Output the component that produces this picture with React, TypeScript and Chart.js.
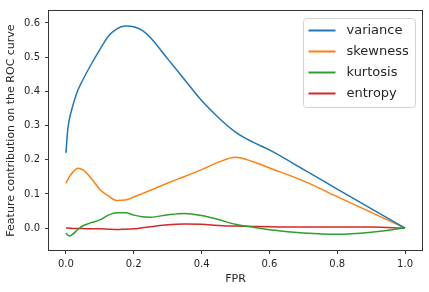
import React, { useEffect, useRef } from "react";
import { Chart, registerables } from "chart.js";

Chart.register(...registerables);

// FPR grid shared by all series
const fpr = [0, 0.005, 0.01, 0.02, 0.035, 0.05, 0.075, 0.1, 0.125, 0.15, 0.175, 0.2, 0.225, 0.25, 0.3, 0.35, 0.4, 0.45, 0.5, 0.55, 0.6, 0.7, 0.8, 0.9, 1.0];

const variance = [0.22, 0.285, 0.318, 0.357, 0.403, 0.434, 0.48, 0.522, 0.561, 0.583, 0.591, 0.589, 0.578, 0.556, 0.495, 0.434, 0.373, 0.323, 0.281, 0.252, 0.229, 0.172, 0.114, 0.057, 0.0];
const skewness = [0.131, 0.141, 0.15, 0.163, 0.175, 0.17, 0.145, 0.113, 0.094, 0.081, 0.082, 0.091, 0.101, 0.111, 0.132, 0.151, 0.171, 0.193, 0.207, 0.195, 0.176, 0.138, 0.092, 0.046, 0.0];
const kurtosis = [-0.014, -0.02, -0.023, -0.018, -0.004, 0.007, 0.016, 0.024, 0.038, 0.045, 0.045, 0.038, 0.033, 0.032, 0.039, 0.043, 0.037, 0.025, 0.011, 0.003, -0.005, -0.014, -0.018, -0.012, 0.0];
const entropy = [0.0, 0.0, 0.0, -0.001, -0.001, -0.001, -0.002, -0.002, -0.003, -0.004, -0.003, -0.002, 0.001, 0.004, 0.01, 0.012, 0.011, 0.008, 0.006, 0.005, 0.004, 0.003, 0.003, 0.003, 0.0];

const seriesLabels = ["variance", "skewness", "kurtosis", "entropy"];
const seriesValues = [variance, skewness, kurtosis, entropy];
const seriesColors = ["#1f77b4", "#ff7f0e", "#2ca02c", "#d62728"];

const xTitle = "FPR";
const yTitle = "Feature contribution on the ROC curve";

const FONT = "'DejaVu Sans', sans-serif";
const INK = "#262626";

const fmt = (v: number) => {
  const s = Number(v).toFixed(1);
  return s === "-0.0" ? "0.0" : s;
};

const framePlugin = {
  id: "mplFrame",
  afterDraw(chart: any) {
    const { ctx, chartArea } = chart;
    const l = Math.round(chartArea.left) - 0.5;
    const t = Math.round(chartArea.top) - 0.5;
    const r = Math.round(chartArea.right) + 0.5;
    const b = Math.round(chartArea.bottom) + 0.5;
    ctx.save();
    ctx.strokeStyle = "#333";
    ctx.lineWidth = 1;
    ctx.strokeRect(l, t, r - l, b - t);
    ctx.restore();
  },
};

const legendPlugin = {
  id: "mplLegend",
  afterDraw(chart: any) {
    const { ctx, chartArea } = chart;
    const w = 112;
    const h = 89;
    const x0 = Math.round(chartArea.right) - 7 - w + 0.5;
    const y0 = Math.round(chartArea.top) + 7 + 0.5;
    const rad = 3;
    ctx.save();
    ctx.beginPath();
    ctx.moveTo(x0 + rad, y0);
    ctx.arcTo(x0 + w, y0, x0 + w, y0 + h, rad);
    ctx.arcTo(x0 + w, y0 + h, x0, y0 + h, rad);
    ctx.arcTo(x0, y0 + h, x0, y0, rad);
    ctx.arcTo(x0, y0, x0 + w, y0, rad);
    ctx.closePath();
    ctx.fillStyle = "rgba(255,255,255,0.8)";
    ctx.fill();
    ctx.strokeStyle = "#d2d2d2";
    ctx.lineWidth = 1;
    ctx.stroke();
    ctx.font = `13px ${FONT}`;
    ctx.textBaseline = "middle";
    ctx.textAlign = "left";
    chart.data.datasets.forEach((ds: any, i: number) => {
      const y = y0 + 12 + i * 21;
      ctx.strokeStyle = ds.borderColor;
      ctx.lineWidth = 2;
      ctx.beginPath();
      ctx.moveTo(x0 + 5, y);
      ctx.lineTo(x0 + 32, y);
      ctx.stroke();
      ctx.fillStyle = INK;
      ctx.fillText(ds.label, x0 + 43, y);
    });
    ctx.restore();
  },
};

export default function App() {
  const canvasRef = useRef<HTMLCanvasElement | null>(null);

  useEffect(() => {
    const canvas = canvasRef.current;
    if (!canvas) return;
    const chart = new Chart(canvas, {
      type: "line",
      data: {
        datasets: seriesLabels.map((label, k) => ({
          label,
          data: fpr.map((x, i) => ({ x, y: seriesValues[k][i] })),
          borderColor: seriesColors[k],
          backgroundColor: seriesColors[k],
          borderWidth: 1.5,
          pointRadius: 0,
          cubicInterpolationMode: "monotone",
          fill: false,
        })),
      },
      options: {
        responsive: false,
        animation: false,
        layout: { padding: { top: 7, right: 7, left: 0, bottom: 0 } },
        plugins: {
          legend: { display: false },
          tooltip: { enabled: false },
        },
        scales: {
          x: {
            type: "linear",
            min: -0.05,
            max: 1.05,
            afterFit: (s: any) => {
              s.height = 42;
            },
            ticks: {
              stepSize: 0.2,
              includeBounds: false,
              padding: 4,
              color: INK,
              font: { family: FONT, size: 10 },
              callback: (v: any) => fmt(v),
            },
            grid: {
              drawOnChartArea: false,
              drawTicks: true,
              tickLength: 4,
              tickColor: "#333",
            },
            border: { display: false },
            title: {
              display: true,
              text: xTitle,
              color: INK,
              font: { family: FONT, size: 11 },
              padding: { top: 0, bottom: 6 },
            },
          },
          y: {
            type: "linear",
            min: -0.064,
            max: 0.635,
            afterFit: (s: any) => {
              s.width = 49;
            },
            ticks: {
              stepSize: 0.1,
              includeBounds: false,
              padding: 5,
              color: INK,
              font: { family: FONT, size: 10 },
              callback: (v: any) => fmt(v),
            },
            grid: {
              drawOnChartArea: false,
              drawTicks: true,
              tickLength: 4,
              tickColor: "#333",
            },
            border: { display: false },
            title: {
              display: true,
              text: yTitle,
              color: INK,
              font: { family: FONT, size: 11 },
              padding: { top: 5, bottom: 0 },
            },
          },
        },
      },
      plugins: [framePlugin, legendPlugin],
    } as any);
    return () => chart.destroy();
  }, []);

  return (
    <div style={{ position: "absolute", left: 0, top: 0, width: 429, height: 292, background: "#fff" }}>
      <canvas ref={canvasRef} width={429} height={292} style={{ display: "block", width: 429, height: 292 }} />
    </div>
  );
}
